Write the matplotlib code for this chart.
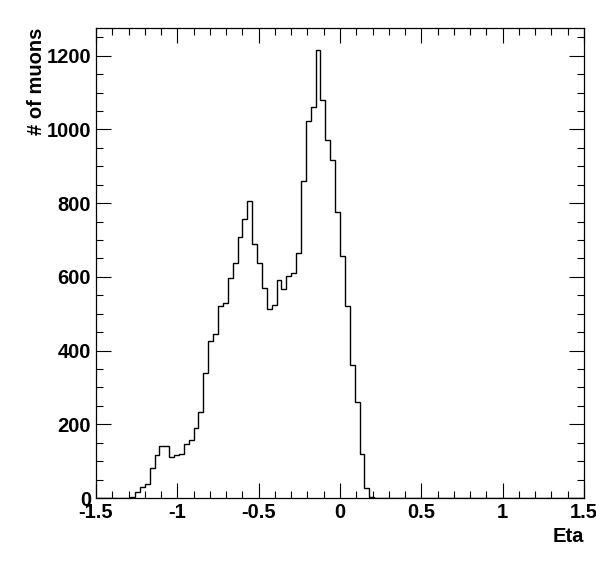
#!/usr/bin/env python3
"""Muon eta distribution, ROOT-style histogram."""

import numpy as np
import matplotlib
matplotlib.use("Agg")
import matplotlib.pyplot as plt
from matplotlib.ticker import MultipleLocator

# 100 bins from -1.5 to 1.5
eta_lo, eta_hi, n_bins = -1.5, 1.5, 100

# bin contents, bins 0..56; the rest are empty
counts_head = [0, 0, 0, 0, 0, 0, 1, 4, 15, 31,
               37, 82, 117, 140, 140, 112, 118, 120, 146, 157,
               191, 234, 338, 425, 446, 520, 528, 598, 638, 708,
               756, 805, 690, 638, 571, 512, 523, 591, 568, 601,
               611, 665, 861, 1024, 1062, 1214, 1081, 971, 917, 775,
               656, 522, 360, 260, 120, 28, 2]
counts = np.zeros(n_bins)
counts[:len(counts_head)] = counts_head

x_label = "Eta"
y_label = "# of muons"
y_max = 1275

plt.rcParams['font.family'] = ['Liberation Sans', 'DejaVu Sans']
plt.rcParams['font.weight'] = 'bold'

fig = plt.figure(figsize=(5.96, 5.72), dpi=100)
ax = fig.add_axes([96 / 596, 1 - 498 / 572, 488 / 596, 470 / 572])

edges = np.linspace(eta_lo, eta_hi, n_bins + 1)
ax.stairs(counts, edges, color='black', linewidth=1.0)

ax.set_xlim(eta_lo, eta_hi)
ax.set_ylim(0, y_max)

ax.xaxis.set_major_locator(MultipleLocator(0.5))
ax.xaxis.set_minor_locator(MultipleLocator(0.1))
ax.yaxis.set_major_locator(MultipleLocator(200))
ax.yaxis.set_minor_locator(MultipleLocator(50))
ax.set_xticks(np.arange(-1.5, 1.51, 0.5))
ax.set_xticklabels(['-1.5', '-1', '-0.5', '0', '0.5', '1', '1.5'])

ax.tick_params(which='both', direction='in', top=True, right=True,
               width=0.8, color='black')
ax.tick_params(which='major', length=10.5, labelsize=14.5, pad=3.5)
ax.tick_params(which='minor', length=5.3)
for lab in ax.get_xticklabels() + ax.get_yticklabels():
    lab.set_fontweight('bold')

for sp in ax.spines.values():
    sp.set_linewidth(0.9)

fig.text(584 / 596, 1 - 537 / 572, x_label, ha='right', va='center',
         fontsize=14.5, fontweight='bold')
fig.text(37 / 596, 1 - 28 / 572, y_label, rotation=90, ha='center',
         va='top', fontsize=14.5, fontweight='bold')

plt.savefig("out.png", dpi=100, facecolor='white')
plt.close()
